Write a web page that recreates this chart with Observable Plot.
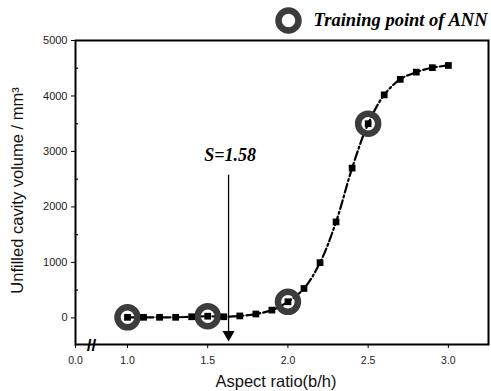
<!DOCTYPE html>
<html>
<head>
<meta charset="utf-8">
<script src="https://cdn.jsdelivr.net/npm/d3@7"></script>
<script src="https://cdn.jsdelivr.net/npm/@observablehq/plot@0.6"></script>
<style>
  html, body { margin: 0; padding: 0; background: #fff; }
  svg { display: block; }
</style>
</head>
<body>
<div id="chart"></div>
<script>
// Data
const aspectRatio = [1.0,1.1,1.2,1.3,1.4,1.5,1.6,1.7,1.8,1.9,2.0,2.1,2.2,2.3,2.4,2.5,2.6,2.7,2.8,2.9,3.0];
const cavityVolume = [10,10,10,10,20,30,20,35,70,140,290,530,995,1730,2700,3500,4020,4300,4430,4510,4550];
const trainingX = [1.0, 1.5, 2.0, 2.5];
const trainingY = [10, 30, 290, 3500];
const xTicks = [1.0, 1.5, 2.0, 2.5, 3.0];
const yTicks = [0, 1000, 2000, 3000, 4000, 5000];
const xBreakLabel = "0.0";
const xDomain = [0.676, 3.25];
const yDomain = [-480, 5000];
const sLabel = "S=1.58";
const sArrowX = 1.63;
const sArrowTop = 2570;
const sArrowTip = -400;
const sLabelY = 2930;
const legendLabel = "Training point of ANN";

const data = aspectRatio.map((x, i) => ({x, y: cavityVolume[i]}));
const training = trainingX.map((x, i) => ({x, y: trainingY[i]}));

const sans = "Liberation Sans, Arial, sans-serif";
const serif = "Liberation Serif, Times New Roman, serif";

const chart = Plot.plot({
  width: 491,
  height: 391,
  marginLeft: 75,
  marginRight: 3,
  marginTop: 40,
  marginBottom: 47,
  style: {fontFamily: sans, background: "#fff"},
  x: {domain: xDomain},
  y: {domain: yDomain},
  marks: [
    // axes
    Plot.axisX({
      ticks: [xDomain[0], ...xTicks],
      tickFormat: d => d === xDomain[0] ? xBreakLabel : d3.format(".1f")(d),
      tickSize: 4, tickPadding: 8, fontSize: 10.5, label: null,
      stroke: "#000", fill: "#222", style: "letter-spacing:0.6px"
    }),
    Plot.axisY({
      ticks: yTicks, tickFormat: d3.format("d"), tickSize: 4, tickPadding: 4, fontSize: 11, label: null,
      stroke: "#000", fill: "#222", style: "letter-spacing:0.6px"
    }),
    Plot.axisY({
      ticks: [500, 1500, 2500, 3500, 4500], tickSize: -3, tickFormat: () => "", label: null, strokeWidth: 1.2
    }),
    Plot.frame({stroke: "#000", strokeWidth: 2}),
    // axis break marks
    Plot.text(["//"], {x: xDomain[0] + 0.1, frameAnchor: "bottom", lineAnchor: "middle", text: d => d,
      fontSize: 17, fontWeight: "bold", fontFamily: sans, dy: 1}),
    // line
    Plot.line(data, {x: "x", y: "y", curve: "catmull-rom", stroke: "#000", strokeWidth: 2.2,
      strokeDasharray: "9 3 2 3"}),
    // training rings
    Plot.dot(training, {x: "x", y: "y", r: 10, stroke: "#3c3c3c", strokeWidth: 6.5, fill: "none"}),
    // squares
    Plot.dot(data, {x: "x", y: "y", symbol: "square", r: 3.8, fill: "#000", stroke: "none"}),
    // arrow
    Plot.ruleX([sArrowX], {y1: sArrowTop, y2: sArrowTip + 150, stroke: "#000", strokeWidth: 1.3}),
    Plot.dot([sArrowX], {x: d => d, y: sArrowTip + 100, symbol: "triangle", rotate: 180, r: 4.5, fill: "#000", stroke: "none"}),
    Plot.text([sLabel], {x: sArrowX + 0.01, y: sLabelY, text: d => d, fontSize: 18,
      fontFamily: serif, fontWeight: "bold", fontStyle: "italic", textAnchor: "middle"}),
    // legend
    Plot.dot([legendLabel], {frameAnchor: "top-left", dx: 213, dy: -20, r: 10, stroke: "#3c3c3c", strokeWidth: 6.5, fill: "none"}),
    Plot.text([legendLabel], {frameAnchor: "top-right", dx: -1, dy: -20, text: d => d, fontSize: 18.5,
      fontFamily: serif, fontWeight: "bold", fontStyle: "italic", textAnchor: "end", lineAnchor: "middle"}),
    // axis titles
    Plot.text(["Aspect ratio(b/h)"], {frameAnchor: "bottom", dx: -6, dy: 42, text: d => d, fontSize: 16.5, fontFamily: sans, fill: "#111"}),
    Plot.text(["Unfilled cavity volume / mm³"], {frameAnchor: "left", dx: -58, dy: -2, rotate: -90, textAnchor: "middle", lineAnchor: "middle",
      text: d => d, fontSize: 16.5, fontFamily: sans, fill: "#111"})
  ]
});
document.getElementById("chart").appendChild(chart);
</script>
</body>
</html>
